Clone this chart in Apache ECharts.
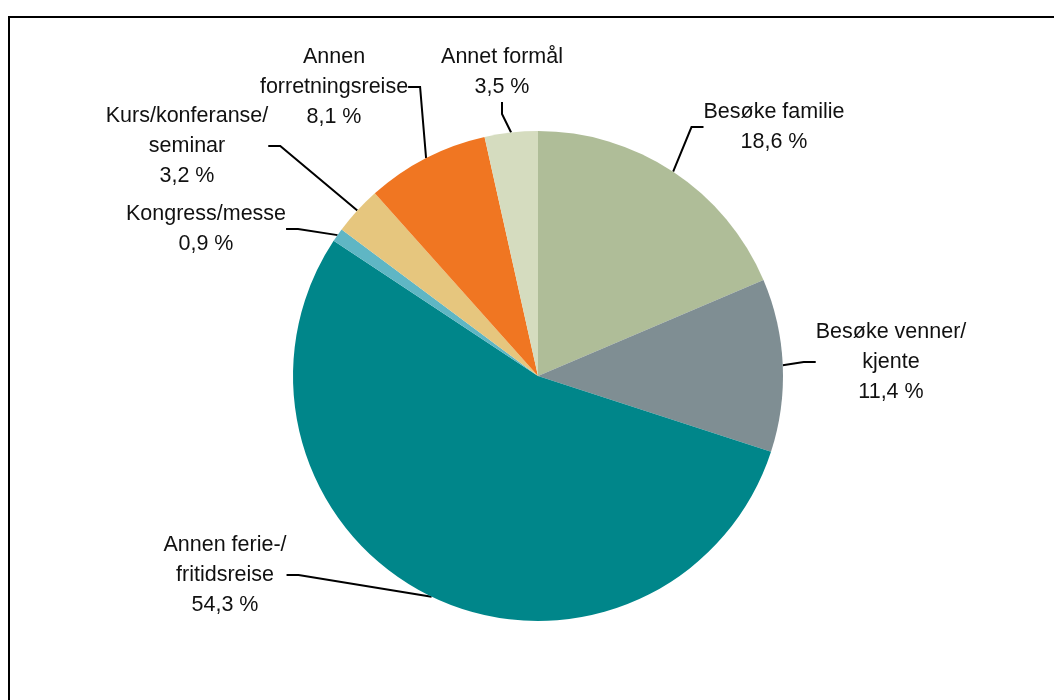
<!DOCTYPE html>
<html>
<head>
<meta charset="utf-8">
<script src="https://cdn.jsdelivr.net/npm/echarts@6/dist/echarts.min.js"></script>
<style>
  html, body { margin: 0; padding: 0; background: #fff; }
  #main { width: 1054px; height: 700px; }
</style>
</head>
<body>
<div id="main"></div>
<script>
// categories and shares (%), clockwise from 12 o'clock
const categories = [
    'Besøke familie',
    'Besøke venner/\nkjente',
    'Annen ferie-/\nfritidsreise',
    'Kongress/messe',
    'Kurs/konferanse/\nseminar',
    'Annen\nforretningsreise',
    'Annet formål'
];
const shares = [18.6, 11.4, 54.3, 0.9, 3.2, 8.1, 3.5];
const colors = ['#afbd98', '#7f8e93', '#00868a', '#5fb6c4', '#e6c67e', '#f07622', '#d5dcbf'];

// where each label sits (centre of the text block)
const labelSpots = [
    [774, 127], [891, 362], [225, 575], [206, 229],
    [187, 146], [334, 87], [502, 72]
];

const chart = echarts.init(document.getElementById('main'), null, { renderer: 'canvas' });

const option = {
    animation: false,
    backgroundColor: '#fff',
    graphic: [{
        type: 'rect',
        shape: { x: 9, y: 17, width: 1200, height: 900 },
        style: { fill: 'none', stroke: '#000', lineWidth: 2 },
        silent: true
    }],
    series: [{
        type: 'pie',
        center: [538, 376],
        radius: [0, 245],
        startAngle: 90,
        clockwise: true,
        avoidLabelOverlap: false,
        itemStyle: { borderWidth: 0 },
        label: {
            show: true,
            position: 'outside',
            color: '#111',
            fontFamily: 'Liberation Sans, Arial, sans-serif',
            fontSize: 21.5,
            lineHeight: 30,
            align: 'center',
            formatter: function (p) {
                return p.name + '\n' + p.value.toFixed(1).replace('.', ',') + ' %';
            }
        },
        labelLine: {
            show: true,
            length: 15,
            length2: 12,
            lineStyle: { color: '#000', width: 2 }
        },
        labelLayout: function (params) {
            const s = labelSpots[params.dataIndex];
            return { x: s[0], y: s[1], align: 'center', verticalAlign: 'middle' };
        },
        data: categories.map(function (c, i) {
            return { name: c, value: shares[i], itemStyle: { color: colors[i] } };
        })
    }]
};

chart.setOption(option);
</script>
</body>
</html>
